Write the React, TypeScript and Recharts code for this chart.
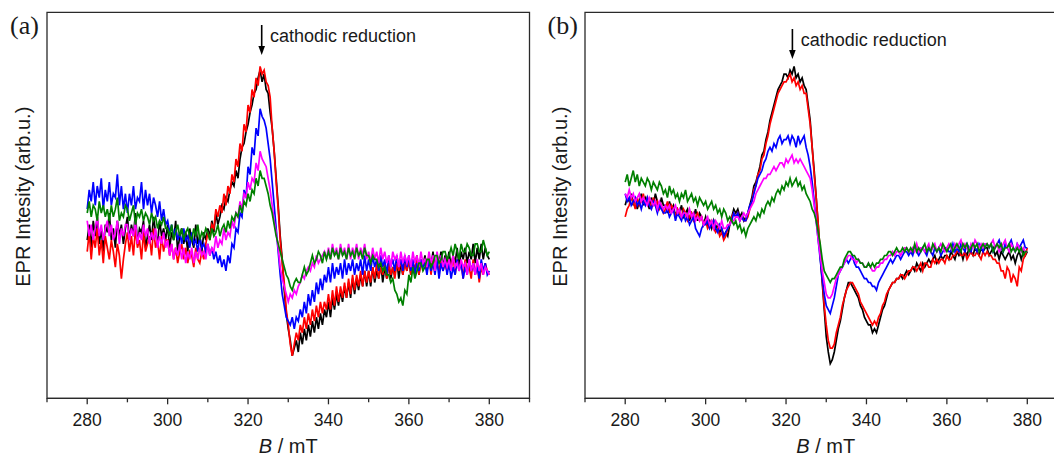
import React from "react"
import { LineChart, Line, XAxis, YAxis, ReferenceArea } from "recharts"

// magnetic field B (mT), one reading every 0.5 mT from 280 to 380
const fieldB: number[] = Array.from({ length: 201 }, (_, i) => 280 + i * 0.5)
const bTicks = [270, 280, 290, 300, 310, 320, 330, 340, 350, 360, 370, 380, 390]
const labelledTicks = [280, 300, 320, 340, 360, 380]

// panel (a) — intensity in arbitrary units (0..100 of the plot height)
const blackA = [
  41, 45, 39, 46, 42, 47, 40, 44, 38, 45, 43, 48, 41, 44, 39, 46, 42, 45, 40, 44,
  47, 41, 45, 42, 48, 40, 44, 43, 46, 39, 42, 45, 41, 47, 43, 40, 46, 42, 44, 41,
  45, 39, 43, 41, 46, 38, 42, 44, 40, 43, 38, 44, 41, 39, 45, 40, 42, 38, 43, 41,
  44, 42, 46, 43, 48, 45, 47, 50, 49, 52, 51, 54, 56, 55, 59, 57, 62, 65, 66, 69,
  71, 74, 76, 79, 80, 83, 85, 82, 84, 80, 79, 74, 70, 64, 57, 50, 42, 36, 28, 22,
  18, 15, 11, 13, 15, 12, 17, 14, 18, 15, 19, 16, 20, 17, 21, 18, 22, 19, 23, 21,
  25, 21, 26, 23, 27, 24, 28, 25, 29, 26, 30, 26, 31, 27, 31, 28, 32, 29, 33, 29,
  33, 29, 34, 30, 33, 31, 35, 30, 34, 31, 35, 31, 34, 32, 36, 31, 35, 32, 36, 33,
  36, 32, 35, 33, 37, 32, 36, 34, 37, 33, 36, 34, 38, 33, 37, 35, 38, 34, 37, 35,
  38, 34, 37, 35, 39, 34, 38, 36, 39, 35, 38, 36, 40, 35, 39, 36, 40, 36, 39, 37,
  36,
]
const redA = [
  38, 43, 36, 42, 39, 44, 37, 41, 35, 42, 39, 36, 41, 38, 34, 40, 37, 31, 36, 40,
  43, 38, 42, 37, 44, 39, 41, 36, 43, 38, 40, 42, 37, 44, 39, 41, 36, 42, 38, 41,
  41, 37, 40, 36, 39, 35, 38, 40, 36, 39, 35, 38, 37, 34, 39, 36, 35, 38, 36, 40,
  43, 41, 45, 44, 49, 47, 50, 48, 53, 50, 55, 53, 58, 56, 62, 60, 66, 64, 71, 69,
  76, 74, 80, 78, 83, 81, 86, 84, 85, 82, 81, 78, 70, 64, 56, 49, 41, 35, 30, 23,
  19, 14, 11, 14, 17, 15, 19, 17, 21, 18, 22, 19, 23, 20, 24, 21, 25, 22, 25, 23,
  27, 23, 28, 24, 29, 25, 29, 26, 30, 26, 31, 27, 32, 28, 32, 29, 33, 29, 33, 30,
  33, 30, 34, 31, 35, 31, 34, 32, 35, 31, 35, 32, 34, 31, 35, 33, 36, 32, 35, 33,
  36, 32, 35, 33, 37, 32, 35, 34, 36, 33, 37, 32, 36, 34, 35, 33, 36, 33, 35, 33,
  36, 33, 37, 32, 36, 34, 35, 31, 36, 33, 34, 31, 36, 32, 35, 30, 34, 32, 35, 33,
  32,
]
const blueA = [
  49, 54, 51, 56, 50, 55, 52, 57, 49, 54, 51, 56, 50, 53, 52, 58, 50, 55, 49, 53,
  48, 53, 50, 55, 49, 52, 51, 56, 49, 54, 50, 53, 48, 52, 50, 47, 51, 46, 49, 45,
  46, 43, 45, 42, 44, 41, 43, 40, 44, 41, 42, 39, 43, 40, 41, 38, 42, 39, 40, 38,
  40, 37, 39, 36, 38, 35, 37, 34, 36, 33, 37, 35, 40, 39, 44, 43, 48, 47, 54, 52,
  60, 58, 65, 63, 70, 68, 75, 73, 72, 70, 66, 62, 56, 50, 44, 38, 32, 27, 24, 21,
  20, 19, 21, 18, 21, 20, 23, 21, 25, 22, 27, 24, 28, 25, 30, 27, 31, 28, 32, 30,
  34, 30, 35, 31, 34, 32, 35, 31, 36, 32, 35, 33, 36, 32, 35, 33, 36, 32, 37, 33,
  36, 33, 37, 34, 36, 33, 37, 34, 36, 32, 37, 34, 36, 33, 37, 34, 36, 33, 37, 34,
  37, 33, 36, 32, 35, 33, 36, 34, 35, 32, 36, 33, 35, 32, 36, 31, 35, 33, 36, 32,
  35, 31, 34, 32, 36, 33, 35, 31, 34, 32, 36, 33, 35, 32, 34, 31, 36, 33, 35, 32,
  33,
]
const magentaA = [
  46, 42, 45, 41, 44, 47, 42, 45, 41, 44, 46, 42, 45, 41, 43, 46, 40, 44, 42, 45,
  45, 41, 44, 42, 46, 40, 43, 41, 45, 42, 44, 40, 43, 41, 44, 39, 42, 40, 43, 39,
  41, 37, 40, 36, 39, 37, 40, 36, 39, 35, 38, 36, 39, 35, 38, 36, 39, 37, 38, 36,
  40, 37, 39, 38, 42, 39, 41, 40, 44, 41, 43, 42, 46, 44, 48, 47, 51, 49, 53, 52,
  56, 54, 57, 56, 61, 59, 64, 62, 61, 60, 57, 54, 50, 46, 43, 39, 34, 31, 29, 27,
  25, 27, 26, 28, 27, 29, 30, 32, 31, 33, 34, 33, 35, 34, 37, 35, 36, 37, 38, 36,
  39, 36, 40, 37, 39, 36, 40, 37, 39, 36, 40, 36, 39, 37, 40, 36, 39, 37, 40, 36,
  38, 35, 39, 36, 38, 35, 39, 36, 38, 35, 37, 34, 38, 36, 37, 34, 38, 35, 37, 35,
  37, 34, 38, 35, 37, 34, 38, 35, 36, 34, 38, 35, 37, 33, 38, 35, 37, 34, 36, 34,
  36, 33, 37, 34, 35, 33, 36, 34, 35, 32, 36, 33, 35, 32, 36, 33, 35, 32, 34, 33,
  32,
]
const greenA = [
  48, 51, 47, 50, 49, 46, 51, 48, 50, 47, 49, 46, 50, 47, 49, 52, 46, 48, 47, 50,
  49, 46, 48, 50, 45, 48, 47, 49, 46, 48, 47, 45, 48, 46, 47, 44, 46, 45, 47, 44,
  44, 42, 45, 41, 43, 45, 42, 44, 41, 43, 44, 42, 41, 44, 42, 45, 41, 43, 42, 44,
  43, 41, 44, 42, 43, 45, 42, 44, 45, 43, 46, 44, 47, 46, 48, 47, 50, 48, 51, 50,
  53, 51, 54, 53, 57, 55, 59, 57, 57, 55, 53, 50, 48, 45, 42, 40, 38, 36, 34, 32,
  31, 29, 28, 30, 31, 30, 30, 32, 34, 32, 33, 35, 37, 35, 36, 38, 37, 35, 38, 36,
  38, 36, 39, 37, 38, 36, 39, 37, 38, 36, 39, 37, 38, 36, 39, 37, 38, 36, 39, 37,
  37, 35, 37, 36, 36, 34, 35, 33, 34, 32, 32, 30, 31, 28, 27, 25, 26, 24, 28, 27,
  32, 30, 34, 31, 33, 35, 35, 33, 34, 36, 36, 34, 35, 37, 37, 35, 36, 38, 38, 36,
  37, 39, 37, 40, 38, 36, 40, 38, 38, 40, 39, 37, 37, 40, 40, 38, 38, 41, 39, 37,
  38,
]

// panel (b)
const blackB = [
  50, 52, 51, 53, 50, 52, 49, 51, 53, 50, 52, 51, 49, 52, 50, 53, 51, 49, 52, 50,
  50, 48, 51, 49, 50, 47, 49, 48, 50, 47, 48, 49, 46, 48, 47, 49, 46, 48, 47, 45,
  47, 45, 46, 44, 46, 44, 45, 43, 44, 42, 43, 42, 45, 47, 49, 48, 49, 47, 48, 46,
  47, 48, 50, 52, 55, 56, 58, 60, 63, 64, 67, 69, 72, 74, 76, 78, 80, 81, 82, 84,
  84, 83, 85, 84, 86, 83, 84, 82, 83, 81, 80, 76, 72, 65, 59, 52, 45, 37, 30, 23,
  16, 12, 9, 10, 12, 15, 18, 20, 23, 26, 28, 30, 30, 29, 28, 27, 26, 24, 23, 21,
  20, 19, 19, 17, 18, 17, 19, 21, 23, 24, 26, 28, 29, 30, 30, 31, 31, 32, 31, 32,
  33, 32, 33, 34, 33, 35, 34, 33, 35, 34, 35, 36, 35, 36, 37, 35, 36, 37, 36, 37,
  37, 36, 38, 37, 36, 38, 37, 38, 36, 38, 37, 39, 38, 37, 39, 38, 37, 39, 38, 39,
  39, 37, 38, 39, 37, 38, 36, 38, 37, 36, 37, 38, 36, 37, 35, 37, 38, 36, 38, 37,
  38,
]
const redB = [
  47, 49, 50, 52, 51, 49, 52, 50, 51, 53, 50, 52, 51, 49, 52, 50, 51, 49, 50, 48,
  49, 51, 48, 50, 49, 47, 49, 48, 47, 49, 48, 46, 47, 48, 46, 47, 48, 46, 47, 45,
  46, 44, 45, 46, 44, 43, 44, 42, 43, 41, 42, 44, 45, 47, 48, 47, 48, 46, 47, 46,
  46, 47, 49, 51, 54, 55, 58, 59, 62, 63, 66, 68, 71, 73, 75, 77, 79, 80, 81, 82,
  82, 83, 84, 82, 83, 81, 82, 80, 81, 79, 79, 75, 71, 65, 58, 52, 45, 38, 31, 24,
  19, 15, 13, 13, 14, 17, 19, 21, 24, 26, 28, 29, 30, 30, 29, 28, 27, 25, 24, 23,
  22, 21, 20, 19, 20, 19, 21, 22, 24, 25, 27, 28, 29, 30, 30, 31, 31, 32, 32, 31,
  32, 33, 33, 34, 34, 33, 34, 35, 33, 35, 35, 34, 34, 36, 35, 36, 35, 36, 36, 35,
  37, 36, 36, 37, 37, 38, 38, 37, 37, 38, 36, 37, 38, 37, 37, 38, 37, 36, 38, 37,
  38, 37, 37, 36, 36, 35, 35, 33, 33, 31, 34, 33, 30, 32, 31, 29, 34, 33, 36, 37,
  39,
]
const blueB = [
  53, 51, 52, 50, 51, 52, 50, 51, 49, 51, 50, 52, 50, 49, 51, 50, 48, 50, 49, 48,
  48, 49, 47, 48, 49, 46, 48, 47, 46, 48, 46, 47, 45, 46, 47, 44, 43, 42, 44, 45,
  45, 46, 44, 45, 46, 44, 43, 45, 44, 42, 43, 44, 45, 46, 48, 47, 48, 46, 47, 46,
  46, 48, 50, 51, 53, 55, 57, 58, 59, 61, 62, 64, 65, 64, 66, 65, 67, 68, 66, 67,
  67, 68, 66, 68, 67, 65, 68, 66, 67, 68, 65, 63, 60, 56, 51, 46, 41, 36, 31, 27,
  24, 23, 22, 24, 26, 29, 32, 33, 34, 35, 36, 35, 36, 37, 35, 34, 34, 33, 32, 31,
  31, 30, 30, 29, 29, 28, 30, 31, 32, 33, 34, 35, 36, 35, 36, 37, 37, 36, 37, 38,
  38, 37, 38, 37, 39, 38, 37, 38, 39, 38, 37, 39, 38, 37, 39, 38, 39, 37, 38, 39,
  39, 38, 38, 40, 38, 39, 38, 40, 39, 38, 40, 39, 38, 40, 39, 38, 40, 39, 38, 40,
  40, 39, 40, 38, 39, 40, 41, 39, 38, 40, 39, 40, 41, 39, 38, 40, 39, 40, 41, 39,
  39,
]
const magentaB = [
  53, 52, 54, 52, 53, 51, 52, 53, 51, 52, 51, 50, 52, 51, 50, 51, 49, 51, 50, 49,
  50, 49, 50, 48, 49, 50, 48, 49, 47, 48, 48, 47, 49, 47, 48, 46, 47, 46, 47, 45,
  46, 47, 45, 46, 44, 46, 45, 44, 46, 44, 44, 45, 45, 46, 46, 47, 47, 46, 47, 48,
  47, 48, 49, 50, 51, 53, 54, 55, 56, 57, 57, 58, 58, 59, 60, 59, 60, 61, 61, 60,
  62, 61, 62, 63, 61, 62, 61, 62, 61, 60, 59, 58, 57, 54, 50, 46, 41, 37, 33, 30,
  27, 26, 26, 27, 29, 31, 32, 33, 34, 35, 36, 37, 37, 36, 36, 35, 36, 35, 35, 34,
  34, 35, 34, 33, 33, 34, 34, 35, 35, 36, 36, 37, 37, 38, 37, 38, 38, 37, 38, 39,
  39, 38, 38, 39, 38, 40, 38, 39, 39, 38, 39, 40, 38, 39, 40, 38, 39, 40, 39, 38,
  39, 40, 39, 38, 40, 39, 40, 41, 39, 40, 39, 38, 40, 39, 41, 40, 39, 40, 39, 40,
  40, 39, 40, 41, 39, 40, 38, 39, 40, 41, 39, 38, 40, 39, 38, 40, 39, 38, 39, 38,
  38,
]
const greenB = [
  56, 58, 55, 57, 59, 56, 58, 55, 57, 56, 55, 57, 56, 54, 56, 55, 54, 56, 55, 53,
  54, 52, 55, 53, 54, 52, 53, 51, 53, 52, 54, 51, 52, 53, 51, 52, 50, 52, 51, 50,
  51, 49, 50, 51, 49, 50, 48, 49, 47, 49, 48, 46, 47, 46, 45, 46, 44, 45, 43, 44,
  42, 44, 45, 46, 47, 46, 48, 47, 49, 48, 50, 51, 50, 52, 51, 53, 54, 53, 55, 54,
  56, 55, 57, 55, 56, 57, 55, 56, 54, 55, 53, 52, 51, 49, 48, 46, 43, 40, 36, 33,
  32, 31, 30, 31, 31, 32, 33, 34, 34, 36, 37, 38, 38, 37, 37, 36, 36, 35, 35, 34,
  34, 35, 34, 35, 34, 35, 35, 36, 36, 37, 37, 38, 38, 37, 38, 39, 38, 38, 39, 38,
  39, 38, 39, 38, 40, 38, 39, 38, 39, 40, 38, 39, 38, 40, 39, 38, 39, 38, 40, 39,
  38, 39, 40, 38, 39, 40, 39, 38, 40, 39, 40, 38, 39, 40, 39, 40, 38, 39, 40, 39,
  40, 39, 40, 38, 39, 40, 39, 40, 38, 39, 39, 40, 38, 39, 38, 39, 38, 39, 37, 38,
  38,
]

const COLORS = { k: "#000000", r: "#ff0000", b: "#0000ff", m: "#ff00ff", g: "#008000" }
const AXIS = "#2a2a2a"
const SANS = "'Liberation Sans', Arial, sans-serif"

const buildRows = (k: number[], r: number[], b: number[], m: number[], g: number[]) =>
  fieldB.map((x, i) => ({ x, k: k[i], r: r[i], b: b[i], m: m[i], g: g[i] }))

const dataA = buildRows(blackA, redA, blueA, magentaA, greenA)
const dataB = buildRows(blackB, redB, blueB, magentaB, greenB)

function BTick(props: any) {
  const { x, y, payload } = props
  const major = labelledTicks.includes(payload.value)
  return (
    <g>
      <line x1={x} x2={x} y1={y} y2={y + (major ? 6 : 4)} stroke={AXIS} strokeWidth={1.3} />
      {major && (
        <text x={x} y={y + 28} textAnchor="middle" fontSize={17.5} fontFamily={SANS} fill="#1a1a1a">
          {payload.value}
        </text>
      )}
    </g>
  )
}

function Spectra({ data, left }: { data: any[]; left: number }) {
  return (
    <div style={{ position: "absolute", left, top: 0 }}>
      <LineChart width={560} height={458} data={data} margin={{ top: 12.3, right: 30.5, bottom: 19.7, left: 47 }}>
        <XAxis
          dataKey="x"
          type="number"
          domain={[270, 390]}
          ticks={bTicks}
          interval={0}
          height={40}
          tickSize={0}
          tickMargin={0}
          tickLine={false}
          tick={<BTick />}
          axisLine={{ stroke: AXIS, strokeWidth: 1.3 }}
        />
        <YAxis type="number" domain={[0, 100]} hide />
        <ReferenceArea x1={270} x2={390} y1={0} y2={100} fill="none" stroke={AXIS} strokeWidth={1.3} />
        <Line type="linear" dataKey="k" stroke={COLORS.k} strokeWidth={1.7} dot={false} isAnimationActive={false} />
        <Line type="linear" dataKey="r" stroke={COLORS.r} strokeWidth={1.7} dot={false} isAnimationActive={false} />
        <Line type="linear" dataKey="b" stroke={COLORS.b} strokeWidth={1.7} dot={false} isAnimationActive={false} />
        <Line type="linear" dataKey="m" stroke={COLORS.m} strokeWidth={1.7} dot={false} isAnimationActive={false} />
        <Line type="linear" dataKey="g" stroke={COLORS.g} strokeWidth={1.7} dot={false} isAnimationActive={false} />
      </LineChart>
    </div>
  )
}

function Titles({ dx, tag, arrowX, textDy }: { dx: number; tag: string; arrowX: number; textDy: number }) {
  return (
    <g fontFamily={SANS} fill="#1a1a1a">
      <text x={dx + 10} y={34} fontSize={26} fontFamily="'Liberation Serif', 'Times New Roman', serif">
        {tag}
      </text>
      <text
        transform={`translate(${dx + 22.8},196.7) rotate(-90)`}
        textAnchor="middle"
        dominantBaseline="central"
        fontSize={20}
      >
        EPR Intesity (arb.u.)
      </text>
      <text x={dx + 288.3} y={453} textAnchor="middle" fontSize={20}>
        <tspan fontStyle="italic">B</tspan> / mT
      </text>
      <line x1={arrowX} x2={arrowX} y1={25 + textDy} y2={48 + textDy} stroke="#000" strokeWidth={1.6} />
      <polygon points={`${arrowX - 3.3},${46 + textDy} ${arrowX + 3.3},${46 + textDy} ${arrowX},${55 + textDy}`} fill="#000" />
      <text x={arrowX + 8.3} y={41.7 + textDy} fontSize={18}>
        cathodic reduction
      </text>
    </g>
  )
}

export default function App() {
  return (
    <div style={{ position: "fixed", left: 0, top: 0, width: 1054, height: 458, overflow: "hidden", background: "#fff" }}>
      <Spectra data={dataA} left={0} />
      <Spectra data={dataB} left={538} />
      <svg width={1054} height={458} style={{ position: "absolute", left: 0, top: 0, pointerEvents: "none" }}>
        <Titles dx={0} tag="(a)" arrowX={261.7} textDy={0} />
        <Titles dx={537.5} tag="(b)" arrowX={792.4} textDy={4} />
      </svg>
    </div>
  )
}
